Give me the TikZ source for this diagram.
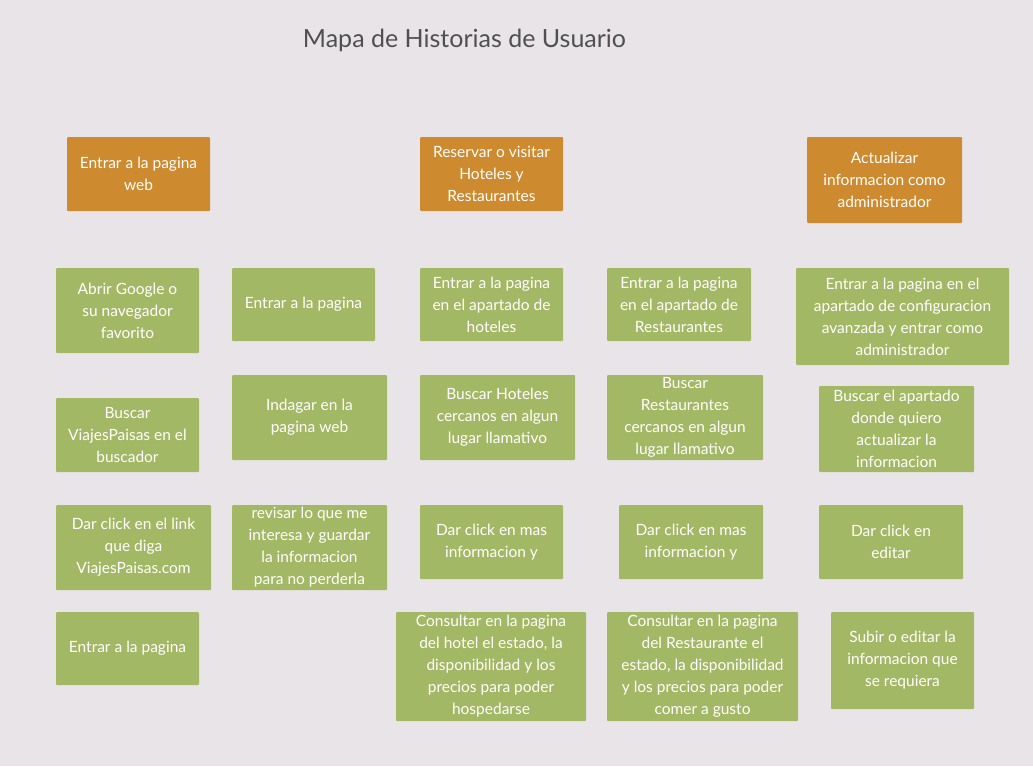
\documentclass[tikz,border=0pt]{standalone}
\usepackage{fontspec}
\setmainfont{Lato}
\definecolor{bgc}{HTML}{E8E4E8}
\definecolor{orangec}{HTML}{CD8A2E}
\definecolor{greenc}{HTML}{A3B865}
\definecolor{titlec}{HTML}{505050}
\tikzset{
  card/.style={rounded corners=1pt, inner sep=0pt, align=center, text=white,
    font=\fontsize{15.5}{22}\selectfont},
  ocard/.style={card, fill=orangec},
  gcard/.style={card, fill=greenc},
}
\begin{document}
\begin{tikzpicture}[x=1pt,y=-1pt]
\fill[bgc] (0,0) rectangle (1033,766);
\useasboundingbox (0,0) rectangle (1033,766);
\node[text=titlec, font=\fontsize{25}{30}\selectfont] (title) at (464.5,40) {Mapa de Historias de Usuario};
% orange headers
\node[ocard, minimum width=143pt, minimum height=74pt] (o1) at (138.5,174) {Entrar a la pagina\\web};
\node[ocard, minimum width=143pt, minimum height=74pt] (o2) at (491.5,174) {Reservar o visitar\\Hoteles y\\Restaurantes};
\node[ocard, minimum width=155pt, minimum height=86pt] (o3) at (884.5,180) {Actualizar\\informacion como\\administrador};
% row 1
\node[gcard, minimum width=143pt, minimum height=85pt] (g11) at (127.5,310.5) {Abrir Google o\\su navegador\\favorito};
\node[gcard, minimum width=143pt, minimum height=73pt] (g12) at (303.5,304.5) {Entrar a la pagina};
\node[gcard, minimum width=143pt, minimum height=73pt] (g13) at (491.5,304.5) {Entrar a la pagina\\en el apartado de\\hoteles};
\node[gcard, minimum width=144pt, minimum height=73pt] (g14) at (679,304.5) {Entrar a la pagina\\en el apartado de\\Restaurantes};
\node[gcard, minimum width=213pt, minimum height=97pt] (g15) at (902.5,316.5) {Entrar a la pagina en el\\apartado de configuracion\\avanzada y entrar como\\administrador};
% row 2
\node[gcard, minimum width=143pt, minimum height=74pt] (g21) at (127.5,435) {Buscar\\ViajesPaisas en el\\buscador};
\node[gcard, minimum width=155pt, minimum height=85pt] (g22) at (309.5,417.5) {Indagar en la\\pagina web};
\node[gcard, minimum width=155pt, minimum height=85pt] (g23) at (497.5,417.5) {Buscar Hoteles\\cercanos en algun\\lugar llamativo};
\node[gcard, minimum width=156pt, minimum height=85pt] (g24) at (685,417.5) {Buscar\\Restaurantes\\cercanos en algun\\lugar llamativo};
\node[gcard, minimum width=155pt, minimum height=86pt] (g25) at (896.5,429) {Buscar el apartado\\donde quiero\\actualizar la\\informacion};
% row 3
\node[gcard, minimum width=155pt, minimum height=85pt] (g31) at (133.5,547.5) {Dar click en el link\\que diga\\ViajesPaisas.com};
\node[gcard, minimum width=155pt, minimum height=85pt] (g32) at (309.5,547.5) {revisar lo que me\\interesa y guardar\\la informacion\\para no perderla};
\node[gcard, minimum width=143pt, minimum height=74pt] (g33) at (491.5,542) {Dar click en mas\\informacion y};
\node[gcard, minimum width=144pt, minimum height=74pt] (g34) at (691,542) {Dar click en mas\\informacion y};
\node[gcard, minimum width=144pt, minimum height=74pt] (g35) at (891,542) {Dar click en\\editar};
% row 4
\node[gcard, minimum width=143pt, minimum height=73pt] (g41) at (127.5,648.5) {Entrar a la pagina};
\node[gcard, minimum width=190pt, minimum height=109pt] (g43) at (491,666.5) {Consultar en la pagina\\del hotel el estado, la\\disponibilidad y los\\precios para poder\\hospedarse};
\node[gcard, minimum width=191pt, minimum height=109pt] (g44) at (702.5,666.5) {Consultar en la pagina\\del Restaurante el\\estado, la disponibilidad\\y los precios para poder\\comer a gusto};
\node[gcard, minimum width=143pt, minimum height=97pt] (g45) at (902.5,660.5) {Subir o editar la\\informacion que\\se requiera};
\end{tikzpicture}
\end{document}
